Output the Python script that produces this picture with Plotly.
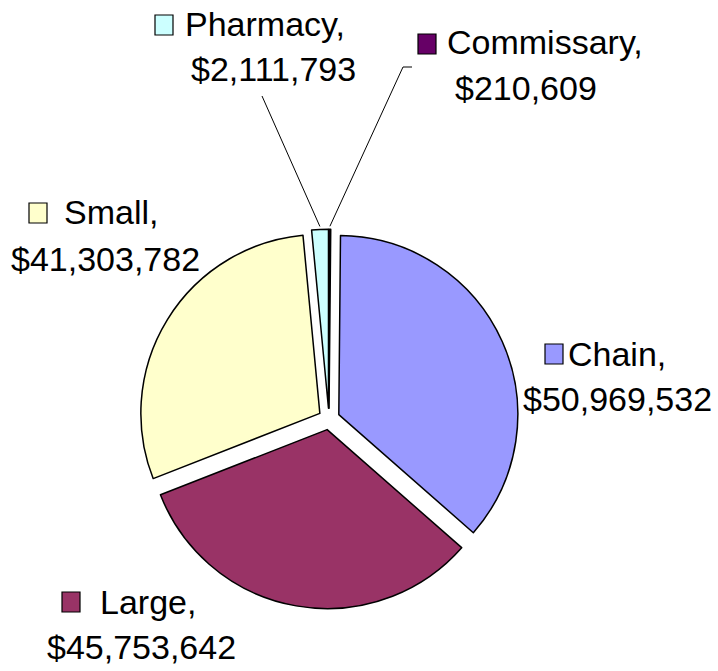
import math
import plotly.graph_objects as go

# ---- data ----
categories = ["Commissary", "Chain", "Large", "Small", "Pharmacy"]
values = [210609, 50969532, 45753642, 41303782, 2111793]
colors = ["#660066", "#9999FF", "#993366", "#FFFFCC", "#CCFFFF"]

W, H = 718, 671
FONT = "Arial, Liberation Sans, sans-serif"
FS = 34

# pie geometry (pixels)
cx, cy = 329, 419
R0 = 179
pull = 0.06
half = R0 * (1 + pull)
dom_x = [(cx - half) / W, (cx + half) / W]
dom_y = [1 - (cy + half) / H, 1 - (cy - half) / H]

fig = go.Figure(go.Pie(
    labels=categories, values=values, sort=False, direction="clockwise",
    rotation=0, pull=[pull] * len(values),
    marker=dict(colors=colors, line=dict(color="black", width=1.5)),
    textinfo="none", hoverinfo="label+value+percent",
    domain=dict(x=dom_x, y=dom_y), showlegend=False,
))

def px(x, y):
    return x / W, 1 - y / H

def fmt(v):
    return "${:,}".format(v)

# label layout: (key box left, top), line1 (left x, baseline), line2 (left x, baseline)
label_pos = {
    "Pharmacy":   dict(key=(155, 15), l1=(184, 37), l2=(190, 82)),
    "Commissary": dict(key=(418, 34), l1=(446, 55), l2=(454, 101)),
    "Small":      dict(key=(29, 203), l1=(63, 225), l2=(10, 272)),
    "Chain":      dict(key=(545, 344), l1=(567, 367), l2=(522, 412)),
    "Large":      dict(key=(62, 592), l1=(99, 615), l2=(46, 660)),
}
KW, KH = 18, 20

shapes = []
annotations = []
for cat, val, col in zip(categories, values, colors):
    p = label_pos[cat]
    kx, ky = p["key"]
    x0, y0 = px(kx, ky)
    x1, y1 = px(kx + KW, ky + KH)
    shapes.append(dict(type="rect", xref="paper", yref="paper",
                       x0=x0, y0=y1, x1=x1, y1=y0,
                       fillcolor=col, line=dict(color="black", width=1.2)))
    for txt, (lx, base) in ((cat + ",", p["l1"]), (fmt(val), p["l2"])):
        ax, ay = px(lx - 1, base + 8)
        annotations.append(dict(x=ax, y=ay, xref="paper", yref="paper",
                                text=txt, showarrow=False,
                                xanchor="left", yanchor="bottom",
                                font=dict(family=FONT, size=FS, color="black")))

# leader lines for the two thin slices, ending at the slice mid-angle
total = sum(values)
cum = 0
mid = {}
for cat, val in zip(categories, values):
    mid[cat] = (cum + val / 2) / total * 2 * math.pi
    cum += val

def edge_point(cat, extra=3):
    r = R0 * (1 + pull) + extra
    a = mid[cat]
    return cx + r * math.sin(a), cy - r * math.cos(a)

leaders = {
    "Pharmacy": [(262, 96)],
    "Commissary": [(412, 67), (403, 67)],
}
for cat, pts in leaders.items():
    pts = pts + [edge_point(cat)]
    for (xa, ya), (xb, yb) in zip(pts[:-1], pts[1:]):
        a0 = px(xa, ya)
        b0 = px(xb, yb)
        shapes.append(dict(type="line", xref="paper", yref="paper",
                           x0=a0[0], y0=a0[1], x1=b0[0], y1=b0[1],
                           line=dict(color="black", width=1)))

fig.update_layout(
    width=W, height=H, margin=dict(l=0, r=0, t=0, b=0),
    paper_bgcolor="white", plot_bgcolor="white",
    shapes=shapes, annotations=annotations,
    font=dict(family=FONT),
)

fig.write_html("out.html")
